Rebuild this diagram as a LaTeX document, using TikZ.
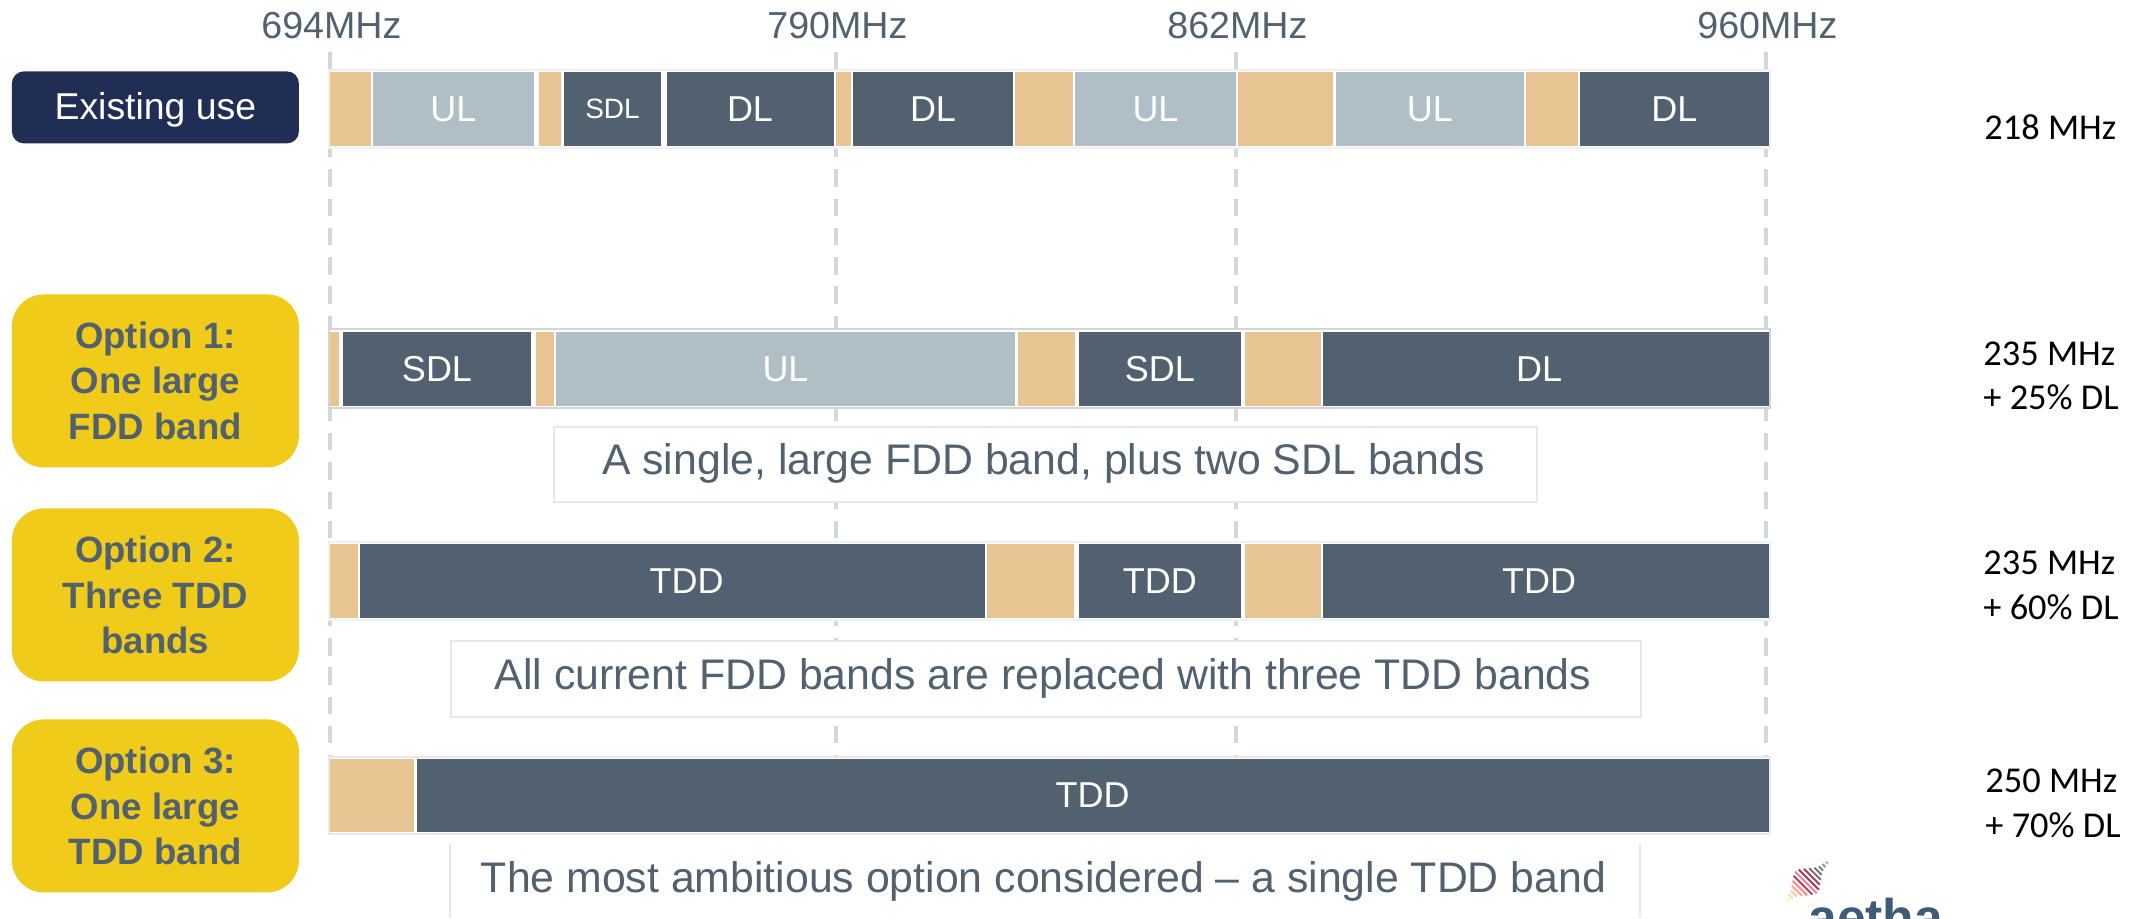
\documentclass[tikz,border=0pt]{standalone}
\usepackage{fontspec}
\setmainfont{Liberation Sans}
\newfontfamily\calfont{Carlito}
\definecolor{bdark}{HTML}{516170}
\definecolor{bul}{HTML}{AFBFC5}
\definecolor{btan}{HTML}{E8C492}
\definecolor{navybox}{HTML}{202D54}
\definecolor{yellowbox}{HTML}{F0CB19}
\definecolor{dashgrey}{HTML}{D4D8DB}
\definecolor{framegrey}{HTML}{E6E8EA}
\definecolor{framelight}{HTML}{EFF0F2}
\definecolor{framedark}{HTML}{D2D4D6}
\definecolor{logoblue}{HTML}{3F5B75}
\tikzset{
  segbase/.style={inner sep=0pt,outer sep=0pt,text=white,font=\fontsize{18}{22}\selectfont},
  segdark/.style={segbase,fill=bdark},
  segul/.style={segbase,fill=bul},
  segtan/.style={segbase,fill=btan},
  freqline/.style={dashgrey,line width=1.8pt,dash pattern=on 8.75pt off 5.9pt},
  freqlabel/.style={anchor=base,inner sep=0pt,text=bdark,font=\fontsize{18.8}{22}\selectfont},
  rowframe/.style={fill=white,draw=framelight,line width=1pt},
  captionbox/.style={fill=white,draw=framegrey,line width=0.8pt,inner sep=0pt,anchor=north west},
  captiontext/.style={anchor=base,inner sep=0pt,text=bdark,font=\fontsize{21.4}{25}\selectfont},
  optbox/.style={fill=yellowbox,rounded corners=16pt,inner sep=0pt,align=center,text=bdark,
     font=\fontsize{18.3}{22.65}\bfseries\selectfont,minimum width=143.5pt,minimum height=86.5pt,anchor=north west},
  usebox/.style={fill=navybox,rounded corners=6pt,inner sep=0pt,text=white,
     font=\fontsize{18.7}{22}\selectfont,minimum width=143.5pt,minimum height=36pt,anchor=north west},
  sidelabel/.style={anchor=base west,inner sep=0pt,text=black,font=\calfont\fontsize{18.2}{22}\selectfont},
}
% [name][x1][x2][y1][y2][style][text]
\newcommand{\seg}[7]{\node[#6,minimum width={(#3-#2)*0.5pt},minimum height={(#5-#4)*0.5pt}] (#1) at ({(#2+#3)/2},{(#4+#5)/2}) {#7};}
\begin{document}
\begin{tikzpicture}[x=0.5pt,y=-0.5pt]
\useasboundingbox (0,0) rectangle (2141,918);
\clip (0,0) rectangle (2141,918);
% frequency markers
\node[freqlabel] (f694) at (331.4,38) {694MHz};
\node[freqlabel] (f790) at (837.4,38) {790MHz};
\node[freqlabel] (f862) at (1237.4,38) {862MHz};
\node[freqlabel] (f960) at (1767.4,38) {960MHz};
\foreach \n/\x in {a/330,b/836,c/1236,d/1766}{
  \coordinate (\n top) at (\x,52);
  \coordinate (\n bot) at (\x,757);
  \draw[freqline] (\n top) -- (\n bot);
}
% row frames
\draw[rowframe] (329,70) rectangle (1770,148);
\draw[rowframe,draw=framedark] (329,329) rectangle (1770,408);
\draw[rowframe] (329,542) rectangle (1770,620);
\draw[rowframe,draw=framegrey] (329,757) rectangle (1770,834);
% left labels
\node[usebox] (existing) at (11.5,71) {\raisebox{0pt}[13.5pt][1.4pt]{Existing use}};
\node[optbox] (opt1) at (11.5,294) {Option 1:\\One large\\FDD band};
\node[optbox] (opt2) at (11.5,508) {Option 2:\\Three TDD\\bands};
\node[optbox] (opt3) at (11.5,719) {Option 3:\\One large\\TDD band};
% row 1
\seg{r1a}{330}{370.5}{72}{146}{segtan}{}
\seg{r1b}{373}{534}{72}{146}{segul}{UL}
\seg{r1c}{539}{560.5}{72}{146}{segtan}{}
\seg{r1d}{564}{661}{72}{146}{segdark}{\fontsize{14}{17}\selectfont SDL}
\seg{r1e}{666.5}{833.5}{72}{146}{segdark}{DL}
\seg{r1f}{836}{851}{72}{146}{segtan}{}
\seg{r1g}{853}{1013}{72}{146}{segdark}{DL}
\seg{r1h}{1015}{1073}{72}{146}{segtan}{}
\seg{r1i}{1075}{1236}{72}{146}{segul}{UL}
\seg{r1j}{1238}{1333}{72}{146}{segtan}{}
\seg{r1k}{1335.5}{1524}{72}{146}{segul}{UL}
\seg{r1l}{1526}{1578}{72}{146}{segtan}{}
\seg{r1m}{1580}{1768.6}{72}{146}{segdark}{DL}
% row 2
\seg{r2a}{330}{339}{332}{406}{segtan}{}
\seg{r2b}{343}{531}{332}{406}{segdark}{SDL}
\seg{r2c}{536}{553.5}{332}{406}{segtan}{}
\seg{r2d}{556}{1015}{332}{406}{segul}{UL}
\seg{r2e}{1017.5}{1075}{332}{406}{segtan}{}
\seg{r2f}{1078.6}{1241}{332}{406}{segdark}{SDL}
\seg{r2g}{1245}{1321}{332}{406}{segtan}{}
\seg{r2h}{1322.5}{1768.6}{332}{406}{segdark}{DL\hspace*{6.5pt}}
% row 3
\seg{r3a}{330}{358}{544.3}{618}{segtan}{}
\seg{r3b}{360}{985}{544.3}{618}{segdark}{\hspace*{14pt}TDD}
\seg{r3c}{987}{1074}{544.3}{618}{segtan}{}
\seg{r3d}{1078.6}{1241}{544.3}{618}{segdark}{TDD}
\seg{r3e}{1245}{1321}{544.3}{618}{segtan}{}
\seg{r3f}{1322.5}{1768.6}{544.3}{618}{segdark}{TDD\hspace*{6.5pt}}
% row 4
\seg{r4a}{330}{414}{758.7}{832}{segtan}{}
\seg{r4b}{416.5}{1768.6}{758.7}{832}{segdark}{TDD}
% captions
\node[captionbox,minimum width=491.5pt,minimum height=37.5pt] (cap1box) at (553,426) {};
\node[captiontext] (cap1) at (1043.5,474) {A single, large FDD band, plus two SDL bands};
\node[captionbox,minimum width=595pt,minimum height=38pt] (cap2box) at (450,640) {};
\node[captiontext] (cap2) at (1043,689) {All current FDD bands are replaced with three TDD bands};
\fill[white] (450,844) rectangle (1640,918);
\coordinate (c3tl) at (450,844); \coordinate (c3bl) at (450,918);
\coordinate (c3tr) at (1640,844); \coordinate (c3br) at (1640,918);
\draw[framegrey,line width=0.8pt] (c3tl) -- (c3bl) (c3tr) -- (c3br);
\node[captiontext] (cap3) at (1043.5,892) {The most ambitious option considered – a single TDD band};
% right labels
\node[sidelabel] (v1) at (1984,139) {218 MHz};
\node[sidelabel] (v2a) at (1983,365) {235 MHz};
\node[sidelabel] (v2b) at (1983,409) {+ 25\% DL};
\node[sidelabel] (v3a) at (1983,574) {235 MHz};
\node[sidelabel] (v3b) at (1983,619) {+ 60\% DL};
\node[sidelabel] (v4a) at (1985,792) {250 MHz};
\node[sidelabel] (v4b) at (1985,837) {+ 70\% DL};
% logo
\foreach \t/\l/\c in {
  0.02/2/yellow!35!white,0.09/3/orange!30!white,0.16/4/orange!45!white,
  0.23/7/red!35!white,0.30/10/red!45!white,0.37/13/red!50!gray,0.44/15/purple!50!white,
  0.51/14/purple!60!gray,0.58/11/purple!40!gray,0.65/8/gray!90!black,0.72/5/gray!90!black,
  0.79/3/gray,0.86/2/gray!80,0.93/1.5/gray!60}{
  \draw[\c,line width=1pt] ({1787+43*\t-\l*0.72},{900-40*\t-\l*0.72}) -- ({1787+43*\t+\l*0.72},{900-40*\t+\l*0.72});
}
\node[anchor=base west,inner sep=0pt,text=logoblue,font=\fontsize{25.8}{30}\bfseries\selectfont] (logo) at (1808,935) {aetha};
\end{tikzpicture}
\end{document}
